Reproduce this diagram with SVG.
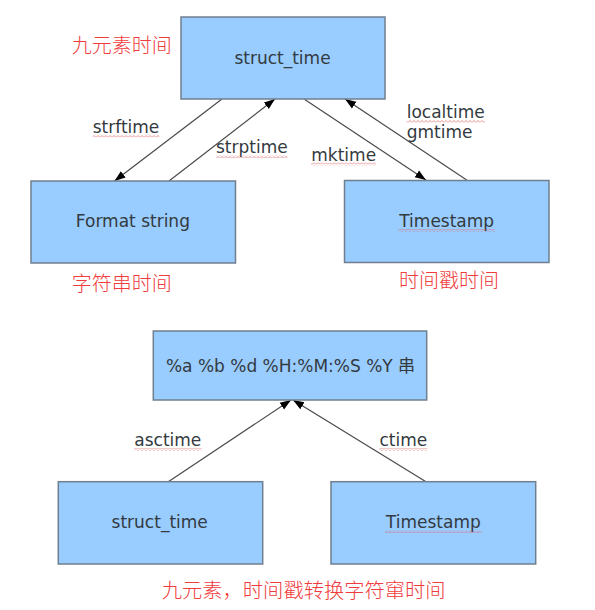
<svg xmlns="http://www.w3.org/2000/svg" width="595" height="610" viewBox="0 0 595 610">
<style>
.box{fill:#99ccff;stroke:#6f7f8e;stroke-width:1.5}
.t{font-family:"DejaVu Sans","Noto Sans CJK SC",sans-serif;font-size:17px;fill:#333a40}
.c{text-anchor:middle}
.red{font-family:"Noto Sans CJK SC","Noto Sans CJK JP",sans-serif;font-size:20px;font-weight:300;fill:#f03c3c}
.ln{stroke:#4a4a4a;stroke-width:1.2;fill:none;marker-end:url(#ah)}
.wv{fill:url(#wavy)}
</style>
<defs>
<marker id="ah" markerUnits="userSpaceOnUse" markerWidth="12" markerHeight="10" refX="11" refY="5" orient="auto">
<path d="M0,1 L11,5 L0,9 Z" fill="#000"/>
</marker>
<pattern id="wavy" patternUnits="userSpaceOnUse" width="4" height="3">
<path d="M0,2.5 L2,0.5 L4,2.5" fill="none" stroke="#e06060" stroke-width="0.7"/>
</pattern>
</defs>
<rect width="595" height="610" fill="#ffffff"/>

<g id="connectors">
<line class="ln" x1="222" y1="99" x2="114.5" y2="181"/>
<line class="ln" x1="169" y1="181" x2="275" y2="99"/>
<line class="ln" x1="304" y1="99" x2="426" y2="180"/>
<line class="ln" x1="466.7" y1="180" x2="345" y2="99"/>
<line class="ln" x1="168.3" y1="481.7" x2="291" y2="400"/>
<line class="ln" x1="426" y1="481.7" x2="293" y2="400"/>
<text class="t c" x="126" y="132.5">strftime</text>
<rect class="wv" x="92.7" y="134.5" width="66.6" height="3"/>
<text class="t c" x="251.8" y="153">strptime</text>
<rect class="wv" x="216" y="155" width="71.6" height="3"/>
<text class="t c" x="343.7" y="160.5">mktime</text>
<rect class="wv" x="311" y="162.5" width="65" height="3"/>
<text class="t" x="406.7" y="118">localtime</text>
<rect class="wv" x="406.7" y="120" width="78.3" height="3"/>
<text class="t" x="406.7" y="137.5">gmtime</text>
<text class="t c" x="167.8" y="446">asctime</text>
<rect class="wv" x="134" y="448" width="67.7" height="3"/>
<text class="t c" x="403.3" y="446">ctime</text>
<rect class="wv" x="379.3" y="448" width="48" height="3"/>
</g>

<g id="node-struct-time">
<rect class="box" x="181" y="17" width="204" height="82"/>
<text class="t c" x="282.5" y="64">struct_time</text>
</g>
<g id="node-format-string">
<rect class="box" x="31" y="181" width="204.5" height="82"/>
<text class="t c" x="132.9" y="227">Format string</text>
</g>
<g id="node-timestamp">
<rect class="box" x="344.5" y="180.5" width="204.5" height="82"/>
<text class="t c" x="446.7" y="227">Timestamp</text>
<rect class="wv" x="398.3" y="229" width="96.7" height="3"/>
</g>
<g id="node-asctime-string">
<rect class="box" x="153.3" y="331" width="273.4" height="69"/>
<text class="t c" x="290.5" y="372">%a %b %d %H:%M:%S %Y 串</text>
</g>
<g id="node-struct-time-2">
<rect class="box" x="58.3" y="481.7" width="204.4" height="82.3"/>
<text class="t c" x="159.7" y="528">struct_time</text>
</g>
<g id="node-timestamp-2">
<rect class="box" x="331" y="481.7" width="204.7" height="82.3"/>
<text class="t c" x="433.3" y="528">Timestamp</text>
<rect class="wv" x="385" y="530" width="96.7" height="3"/>
</g>

<g id="labels">
<text class="red" x="71.7" y="52.5">九元素时间</text>
<text class="red" x="71.7" y="291">字符串时间</text>
<text class="red" x="399" y="288">时间戳时间</text>
<text class="red" x="161.7" y="597.5" style="font-size:20.3px">九元素，时间戳转换字符窜时间</text>
</g>
</svg>
